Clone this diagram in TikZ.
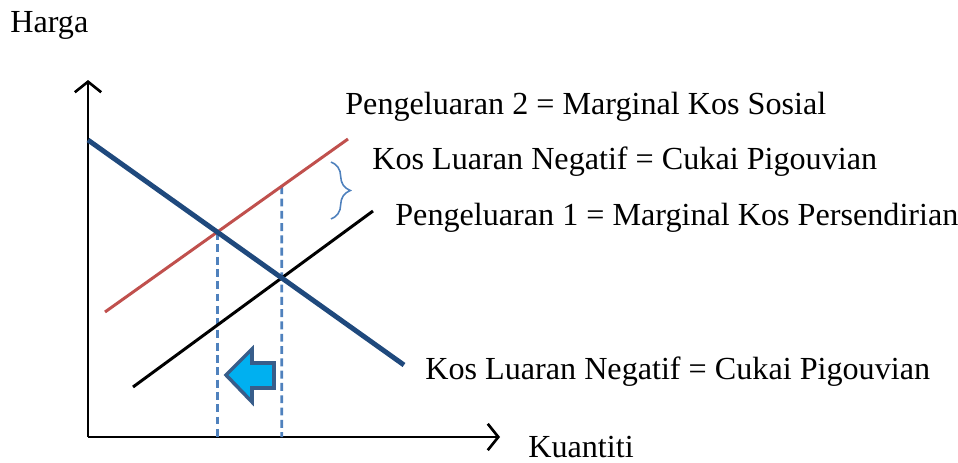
\documentclass[tikz,border=0pt]{standalone}
\usepackage{fontspec}
\setmainfont{Liberation Serif}
\usetikzlibrary{arrows,arrows.meta,decorations.pathreplacing}
\definecolor{demand}{HTML}{1F497D}
\definecolor{social}{HTML}{C0504D}
\definecolor{guide}{HTML}{4F81BD}
\definecolor{shiftfill}{HTML}{00B0F0}
\definecolor{shiftedge}{HTML}{385D8A}

\begin{document}
\begin{tikzpicture}[x=0.02cm,y=-0.02cm,
    lbl/.style={anchor=west,inner sep=0pt,font=\fontsize{18.3}{21}\selectfont},
    axis/.style={line width=1.5pt,-{Straight Barb[length=6pt,width=15pt,line width=1.5pt]}},
    guideline/.style={draw=guide,line width=1.5pt,dash pattern=on 4.5pt off 2.5pt}]
			\useasboundingbox (0,0) rectangle (958,463);

			\coordinate (O) at (88,437);
			\coordinate (yend) at (88,80);
			\coordinate (xend) at (500,437);

			\coordinate (D1) at (88,140);
			\coordinate (D2) at (404,365);
			\coordinate (S1) at (105,312);
			\coordinate (S2) at (348,139);
			\coordinate (P1) at (133,387);
			\coordinate (P2) at (373,211);

			\coordinate (E1) at (intersection of D1--D2 and S1--S2);
			\coordinate (E2) at (intersection of D1--D2 and P1--P2);
			\coordinate (E2up) at (E2 |- yend);
			\coordinate (T2) at (intersection of S1--S2 and E2--E2up);

			\draw[axis] (O) -- (yend);
			\draw[axis] (O) -- (xend);

			\draw[guideline] (E1) -- (E1 |- O);
			\draw[guideline] (T2) -- (E2 |- O);

			\draw[social,line width=1.7pt] (S1) -- (S2);
			\draw[line width=1.7pt] (P1) -- (P2);
			\draw[demand,line width=2.8pt] (D1) -- (D2);

			% brace for the tax gap
			\draw[guide,line width=0.9pt,decorate,decoration={brace,amplitude=11pt}]
				(331,162) -- (331,219);

			% shift to the left
			\draw[shiftedge,fill=shiftfill,line width=2pt,line join=miter]
				(226,375) -- (252,349) -- (252,363) -- (274,363) -- (274,388)
				-- (252,388) -- (252,402) -- cycle;

			\node[lbl] (harga) at (10,25) {Harga};
			\node[lbl] (kuantiti) at (528,447) {Kuantiti};
			\node[lbl] (mks) at (345,107) {Pengeluaran 2 = Marginal Kos Sosial};
			\node[lbl] (klt) at (372,162) {Kos Luaran Negatif = Cukai Pigouvian};
			\node[lbl] (mkp) at (395,218) {Pengeluaran 1 = Marginal Kos Persendirian};
			\node[lbl] (klb) at (425,372) {Kos Luaran Negatif = Cukai Pigouvian};
		\end{tikzpicture}
\end{document}
